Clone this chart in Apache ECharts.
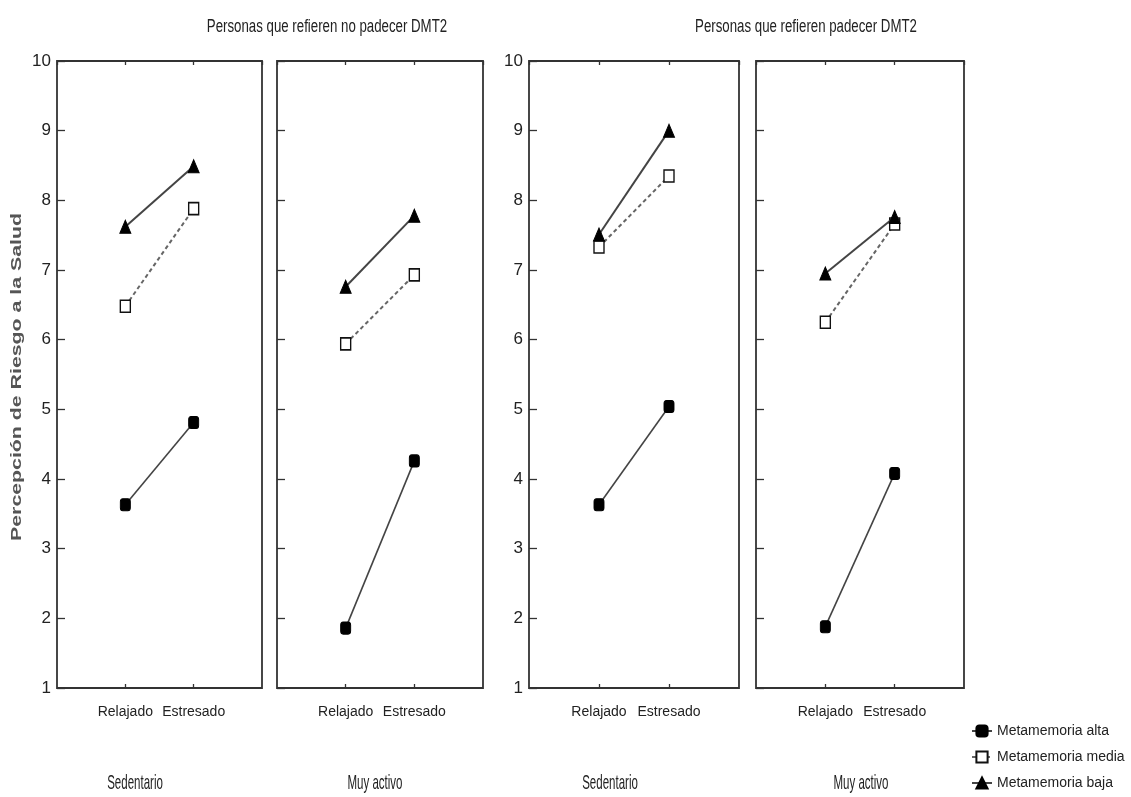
<!DOCTYPE html>
<html>
<head>
<meta charset="utf-8">
<script src="https://cdn.jsdelivr.net/npm/echarts@6/dist/echarts.min.js"></script>
<style>
html,body{margin:0;padding:0;background:#fff;}
#chart{width:1131px;height:797px;}
</style>
</head>
<body>
<div id="chart"></div>
<script>
// ---- Data ----
const categories = ['Relajado', 'Estresado'];
const yTicks = [1, 2, 3, 4, 5, 6, 7, 8, 9, 10];
const seriesNames = ['Metamemoria alta', 'Metamemoria media', 'Metamemoria baja'];
const groupTitles = ['Personas que refieren no padecer DMT2', 'Personas que refieren padecer DMT2'];
const activityLabels = ['Sedentario', 'Muy activo', 'Sedentario', 'Muy activo'];
const yAxisTitle = 'Percepción de Riesgo a la Salud';

// No DMT2 - Sedentario
const altaNoSed = [3.63, 4.81];
const mediaNoSed = [6.48, 7.88];
const bajaNoSed = [7.62, 8.49];
// No DMT2 - Muy activo
const altaNoAct = [1.86, 4.26];
const mediaNoAct = [5.94, 6.93];
const bajaNoAct = [6.76, 7.78];
// DMT2 - Sedentario
const altaSiSed = [3.63, 5.04];
const mediaSiSed = [7.33, 8.35];
const bajaSiSed = [7.51, 9.0];
// DMT2 - Muy activo
const altaSiAct = [1.88, 4.08];
const mediaSiAct = [6.25, 7.66];
const bajaSiAct = [6.95, 7.76];

const panelData = [
  [altaNoSed, mediaNoSed, bajaNoSed],
  [altaNoAct, mediaNoAct, bajaNoAct],
  [altaSiSed, mediaSiSed, bajaSiSed],
  [altaSiAct, mediaSiAct, bajaSiAct]
];

// ---- Layout ----
const FONT = "'Liberation Sans',Arial,sans-serif";
const gridBoxes = [
  {left: 57, width: 205},
  {left: 277, width: 206},
  {left: 529, width: 210},
  {left: 756, width: 208}
];
const TOP = 61, HEIGHT = 627;
const TICK = 4;
const showYLabels = [true, false, true, false];

const grids = [], xAxes = [], yAxes = [], series = [];
const catLabel = v => (v >= 1 && v <= categories.length && Number.isInteger(v)) ? categories[v - 1] : '';
const tickStyle = {show: true, length: TICK, lineStyle: {color: '#333', width: 1.3}};

gridBoxes.forEach((g, i) => {
  grids.push({
    left: g.left, top: TOP, width: g.width, height: HEIGHT,
    show: true, borderColor: '#333', borderWidth: 1.8, backgroundColor: '#fff'
  });
  ['bottom', 'top'].forEach(pos => {
    xAxes.push({
      type: 'value', gridIndex: i, position: pos, offset: -TICK,
      min: 0, max: categories.length + 1, interval: 1,
      axisLine: {show: false}, splitLine: {show: false},
      axisTick: tickStyle,
      axisLabel: pos === 'bottom' ? {
        show: true, formatter: v => catLabel(v), margin: 17 + TICK, color: '#222',
        fontFamily: FONT, fontSize: 14, showMinLabel: false, showMaxLabel: false
      } : {show: false}
    });
  });
  ['left', 'right'].forEach(pos => {
    yAxes.push({
      type: 'value', gridIndex: i, position: pos, offset: -TICK,
      min: 1, max: 10, interval: 1,
      axisLine: {show: false}, splitLine: {show: false},
      axisTick: tickStyle,
      axisLabel: (pos === 'left' && showYLabels[i]) ? {
        show: true, margin: 6 + TICK, color: '#222', fontFamily: FONT, fontSize: 17,
        formatter: v => yTicks.indexOf(v) >= 0 ? String(v) : ''
      } : {show: false}
    });
  });
});

const seriesStyles = [
  {symbol: 'roundRect', symbolSize: [10, 12], itemStyle: {color: '#000', borderColor: '#000', borderWidth: 1},
   lineStyle: {color: '#444', width: 1.6, type: 'solid'}},
  {symbol: 'rect', symbolSize: [10, 12], itemStyle: {color: '#fff', borderColor: '#111', borderWidth: 1.5},
   lineStyle: {color: '#666', width: 2, type: [4, 3]}},
  {symbol: 'triangle', symbolSize: [11, 13], itemStyle: {color: '#000', borderColor: '#000', borderWidth: 1},
   lineStyle: {color: '#444', width: 2, type: 'solid'}}
];

panelData.forEach((arrs, p) => {
  arrs.forEach((vals, s) => {
    const st = seriesStyles[s];
    series.push({
      name: seriesNames[s], type: 'line', xAxisIndex: p * 2, yAxisIndex: p * 2,
      data: vals.map((v, k) => [k + 1, v]),
      symbol: st.symbol, symbolSize: st.symbolSize, itemStyle: st.itemStyle, lineStyle: st.lineStyle,
      animation: false, z: 3 + s, silent: true
    });
  });
});

const narrowText = (text, x, y, size, sx, sy) => ({
  type: 'text', x: x, y: y, scaleX: sx, scaleY: sy,
  style: {text: text, x: 0, y: 0, textAlign: 'center', textVerticalAlign: 'middle', fill: '#222', font: size + 'px ' + FONT}
});

const graphics = [
  narrowText(groupTitles[0], 327, 27, 17, 0.78, 1.05),
  narrowText(groupTitles[1], 806, 27, 17, 0.78, 1.05),
  {type: 'text', x: 17, y: 377, rotation: Math.PI / 2, scaleX: 1.42, scaleY: 1,
   style: {text: yAxisTitle, x: 0, y: 0, textAlign: 'center', textVerticalAlign: 'middle',
     fill: '#555', font: "bold 15px " + FONT}}
];
const activityX = [135, 375, 610, 861];
activityLabels.forEach((t, i) => {
  graphics.push(narrowText(t, activityX[i], 783, 16, 0.72, 1.3));
});

const chart = echarts.init(document.getElementById('chart'), null, {renderer: 'canvas'});
chart.setOption({
  animation: false,
  backgroundColor: '#fff',
  grid: grids,
  xAxis: xAxes,
  yAxis: yAxes,
  legend: {
    data: seriesNames, orient: 'vertical', left: 971, top: 724,
    itemWidth: 20, itemHeight: 14, itemGap: 12, padding: 0,
    textStyle: {fontFamily: FONT, fontSize: 14, color: '#222'},
    selectedMode: false
  },
  graphic: graphics,
  series: series
});
</script>
</body>
</html>
